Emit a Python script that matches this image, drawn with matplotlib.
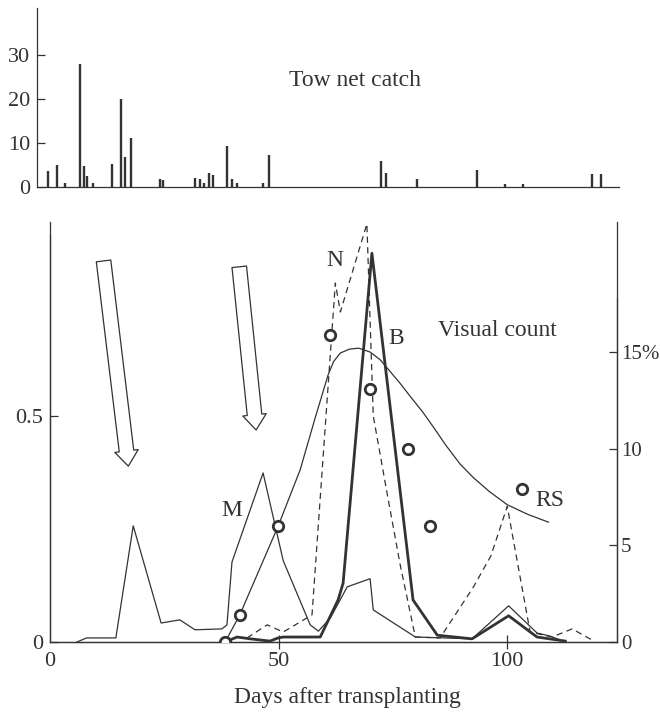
import matplotlib
matplotlib.use("Agg")
import matplotlib.pyplot as plt
from matplotlib.patches import FancyArrowPatch

plt.rcParams['font.family'] = ['Liberation Serif', 'DejaVu Serif']

ink = '#333333'

# tow net catch (top panel)
tow_day = [2.3, 4.3, 6.1, 9.3, 10.2, 10.9, 12.2, 16.4, 18.4, 19.2, 20.6, 26.8, 27.6,
           34.6, 35.7, 36.6, 37.6, 38.6, 41.5, 42.6, 43.7, 49.5, 50.7, 75.2, 76.3,
           83.2, 96.3, 102.3, 106.3, 121.3, 123.3]
tow_catch = [3.7, 4.9, 1.0, 28.0, 4.7, 2.4, 1.0, 5.2, 20.0, 6.9, 11.2, 1.8, 1.7,
             2.0, 1.9, 1.0, 3.1, 2.8, 9.3, 1.9, 0.8, 1.0, 7.2, 6.0, 3.1,
             1.9, 3.9, 0.6, 0.7, 2.9, 2.9]

# M (thin solid)
m_day = [5.9, 8.0, 14.4, 18.2, 24.3, 28.4, 31.7, 37.6, 38.7, 39.8, 46.6, 51.0, 56.9,
         58.7, 61.3, 65.0, 70.0, 70.7, 79.9, 92.3, 100.3, 106.5, 109.4, 112.2]
m_val = [0.0, 0.009, 0.009, 0.257, 0.042, 0.049, 0.027, 0.029, 0.038, 0.177, 0.374, 0.18, 0.038,
         0.024, 0.053, 0.122, 0.14, 0.071, 0.011, 0.007, 0.08, 0.02, 0.013, 0.002]

# B (thick solid)
b_day = [38.3, 40.9, 43.8, 48.1, 49.9, 51.0, 59.1, 63.0, 64.1, 70.4, 79.4, 84.7,
         92.3, 100.3, 106.5, 112.7]
b_val = [0.0, 0.011, 0.007, 0.002, 0.009, 0.011, 0.011, 0.093, 0.13, 0.86, 0.093, 0.015,
         0.007, 0.058, 0.011, 0.002]

# N (dashed)
n_day = [43.1, 47.5, 51.0, 57.3, 62.4, 63.5, 69.3, 70.7, 73.7, 76.6, 79.9, 85.3,
         92.5, 96.4, 100.0, 105.0, 109.8, 114.2, 118.6]
n_val = [0.009, 0.038, 0.022, 0.06, 0.794, 0.73, 0.925, 0.50, 0.33, 0.17, 0.011, 0.009,
         0.12, 0.19, 0.30, 0.022, 0.011, 0.029, 0.004]

# visual count (%, right axis) and fitted curve RS
vc_day = [38.3, 41.5, 49.9, 61.3, 70.0, 78.4, 83.1, 103.3]
vc_pct = [0.0, 1.4, 6.0, 15.9, 13.1, 10.0, 6.0, 7.9]
rs_day = [38.3, 41.5, 49.9, 54.7, 58.0, 60.8, 62.0, 63.5, 65.5, 67.5, 70.0, 72.2, 74.0,
          76.5, 78.8, 81.5, 83.9, 86.5, 89.7, 92.6, 96.0, 100.0, 104.5, 109.0]
rs_pct = [0.0, 1.4, 6.0, 8.9, 11.6, 13.8, 14.5, 14.95, 15.15, 15.2, 15.0, 14.6, 14.1,
          13.4, 12.7, 11.9, 11.1, 10.2, 9.2, 8.5, 7.8, 7.1, 6.6, 6.2]

fig = plt.figure(figsize=(6.6, 7.14), dpi=100)

# ---- top panel
top = fig.add_axes([37/660, 1 - 187/714, 582/660, 179/714])
top.vlines(tow_day, 0, tow_catch, color=ink, lw=1.7)
top.set_xlim(0, 127.3)
top.set_ylim(0, 40.7)
top.set_yticks([0, 10, 20, 30])
top.set_xticks([])
for s in ['top', 'right']:
    top.spines[s].set_visible(False)
for s in ['left', 'bottom']:
    top.spines[s].set_color(ink)
    top.spines[s].set_linewidth(0.9)
top.tick_params(axis='y', direction='in', length=6, width=0.9, color=ink,
                labelsize=16, labelcolor=ink, pad=5)
top.text(69.6, 24.3, 'Tow net catch', fontsize=17, color=ink, ha='center', va='center')

# ---- lower panel
ax = fig.add_axes([50/660, 72/714, 567/660, 420.4/714])
ax.set_xlim(0, 124)
ax.set_ylim(0, 0.93)
ax.plot(m_day, m_val, color=ink, lw=0.9)
ax.plot(b_day, b_val, color=ink, lw=2.0)
ax.plot(n_day, n_val, color=ink, lw=0.9, ls=(0, (5, 3.5)))

ax2 = ax.twinx()
ax2.set_ylim(0, 0.93 * 452 / 19.33)
ax2.plot(rs_day, rs_pct, color=ink, lw=0.9)
ax2.plot(vc_day, vc_pct, 'o', mfc='white', mec=ink, mew=2.0, ms=7.5, zorder=5)

for a in (ax, ax2):
    a.spines['top'].set_visible(False)
    for s in ['left', 'right', 'bottom']:
        a.spines[s].set_color(ink)
        a.spines[s].set_linewidth(0.9)
ax.spines['left'].set_bounds(0, 0.9)
ax2.spines['right'].set_bounds(0, 17.8)

ax.set_yticks([0, 0.5])
ax.set_yticklabels(['0', '0.5'])
ax.set_xticks([0, 50, 100])
ax.tick_params(axis='y', direction='in', length=6, width=0.9, color=ink,
               labelsize=16, labelcolor=ink, pad=5)
ax.tick_params(axis='x', direction='inout', length=10, width=0.9, color=ink,
               labelsize=16, labelcolor=ink, pad=2)
ax.xaxis.get_major_ticks()[0].tick1line.set_visible(False)
ax2.set_yticks([0, 5, 10, 15])
ax2.set_yticklabels(['0', '5', '10', '15%'])
ax2.tick_params(axis='y', direction='in', length=6, width=0.9, color=ink,
                labelsize=15, labelcolor=ink, pad=3)

# hollow arrows
for tail, tip in [((11.71, 0.843), (17.13, 0.389)), ((41.39, 0.830), (45.07, 0.469))]:
    arr = FancyArrowPatch(tail, tip, arrowstyle='simple,head_length=11,head_width=17,tail_width=10.5',
                          mutation_scale=1, shrinkA=0, shrinkB=0,
                          facecolor='white', edgecolor=ink, lw=0.9, zorder=6)
    ax.add_patch(arr)

ax.text(39.8, 0.292, 'M', fontsize=17, color=ink, ha='center', va='center')
ax.text(62.3, 0.845, 'N', fontsize=17, color=ink, ha='center', va='center')
ax.text(75.8, 0.672, 'B', fontsize=17, color=ink, ha='center', va='center')
ax.text(97.8, 0.69, 'Visual count', fontsize=17, color=ink, ha='center', va='center')
ax.text(109.4, 0.314, 'RS', fontsize=17, color=ink, ha='center', va='center')

fig.text(347/660, 1 - 697/714, 'Days after transplanting', fontsize=17, color=ink,
         ha='center', va='center')

fig.savefig('out.png', dpi=100, facecolor='white')
